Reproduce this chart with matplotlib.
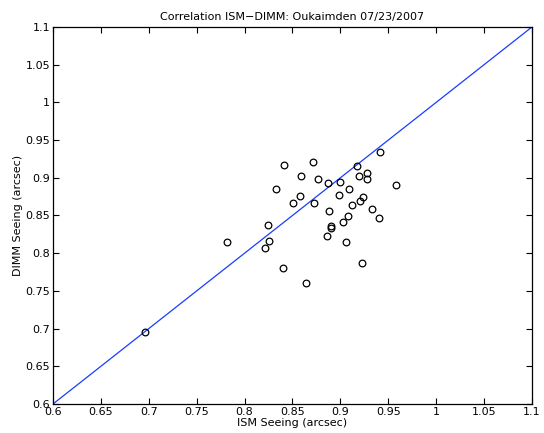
import matplotlib.pyplot as plt
from matplotlib.ticker import FormatStrFormatter
import numpy as np

# ISM vs DIMM seeing (arcsec)
ism = [0.696, 0.941, 0.841, 0.871, 0.859, 0.877, 0.887, 0.900, 0.917, 0.928, 0.919,
       0.928, 0.833, 0.909, 0.958, 0.858, 0.851, 0.872, 0.899, 0.912, 0.920, 0.924,
       0.888, 0.933, 0.908, 0.940, 0.903, 0.890, 0.890, 0.886, 0.906, 0.840, 0.923,
       0.824, 0.782, 0.825, 0.821, 0.864]
dimm = [0.696, 0.934, 0.917, 0.921, 0.903, 0.898, 0.893, 0.894, 0.916, 0.907, 0.902,
        0.898, 0.885, 0.885, 0.891, 0.876, 0.867, 0.866, 0.877, 0.864, 0.869, 0.874,
        0.856, 0.858, 0.849, 0.846, 0.841, 0.836, 0.833, 0.823, 0.815, 0.781, 0.787,
        0.837, 0.815, 0.816, 0.807, 0.761]
lims = [0.6, 1.1]
ticks = np.arange(0.6, 1.1001, 0.05)

fig = plt.figure(figsize=(5.44, 4.33), dpi=100)
ax = fig.add_axes([0.0974, 0.067, 0.8805, 0.8707])

ax.plot(lims, lims, color='#1a3cff', lw=0.9)
ax.plot(ism, dimm, 'o', mfc='none', mec='black', ms=4.8, mew=0.9)

ax.set_xlim(lims)
ax.set_ylim(lims)
ax.set_xticks(ticks)
ax.set_yticks(ticks)
ax.xaxis.set_major_formatter(FormatStrFormatter('%g'))
ax.yaxis.set_major_formatter(FormatStrFormatter('%g'))
ax.tick_params(direction='in', top=True, right=True, labelsize=8, length=4, width=0.8, pad=2)
for s in ax.spines.values():
    s.set_linewidth(0.9)

ax.set_xlabel('ISM Seeing (arcsec)', fontsize=8, labelpad=1)
ax.set_ylabel('DIMM Seeing (arcsec)', fontsize=8, labelpad=2)
ax.set_title('Correlation ISM\u2212DIMM: Oukaimden 07/23/2007', fontsize=8, pad=5)

plt.savefig('out.png')
